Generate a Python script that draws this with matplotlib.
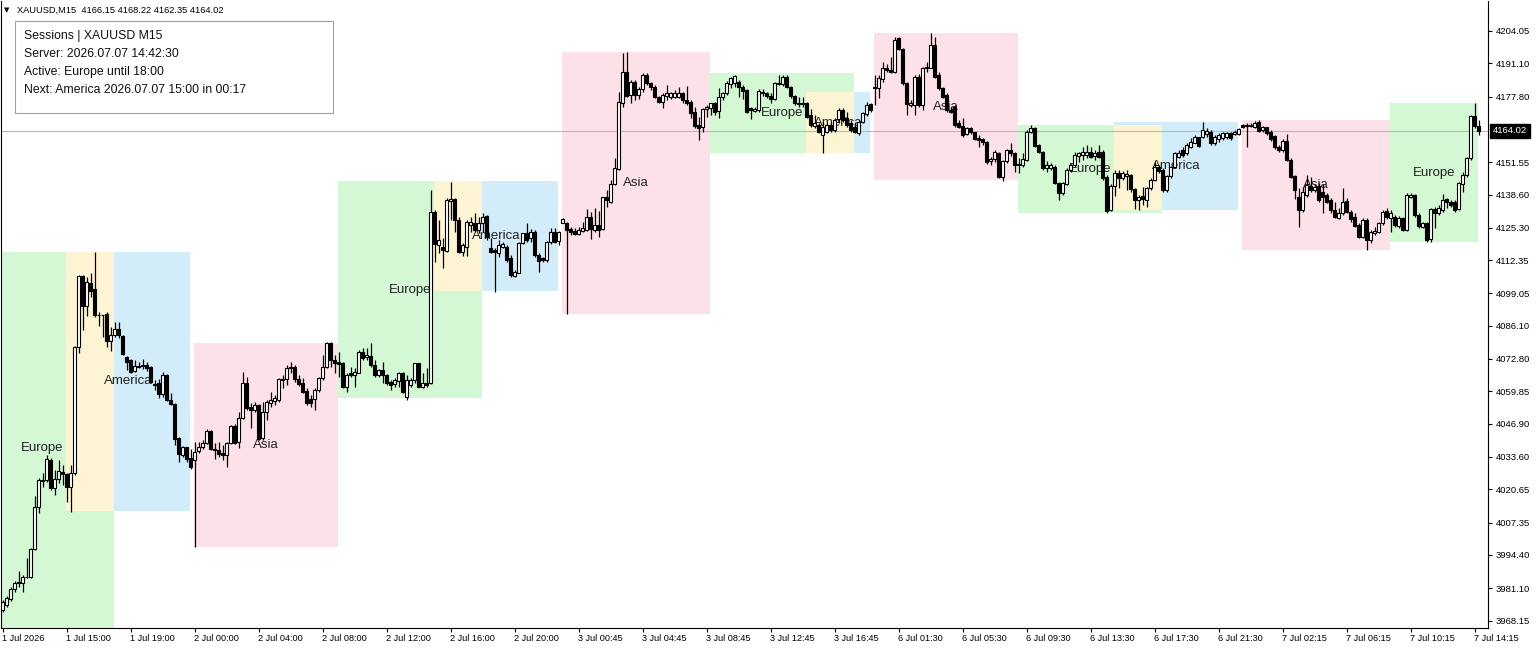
import matplotlib
matplotlib.use("Agg")
import matplotlib.pyplot as plt
from matplotlib.patches import Rectangle

plt.rcParams["font.family"] = ["Liberation Sans", "DejaVu Sans"]

# XAUUSD M15 candles, bar 0 = 1 Jul 2026 11:00
opens = [
    3972.4, 3974.4, 3976.7, 3980.7, 3983.3, 3983.1, 3985.7, 3985.5, 3996.7, 4013.7,
    4024.4, 4024.4, 4032.4, 4021.1, 4024.7, 4027.5, 4026.7, 4021.5, 4027.1, 4077.5,
    4106.0, 4094.0, 4103.3, 4100.7, 4090.4, 4090.4, 4090.8, 4080.1, 4082.4, 4084.7,
    4082.1, 4073.7, 4072.4, 4068.1, 4069.7, 4070.0, 4070.4, 4069.5, 4062.8, 4063.1,
    4058.8, 4066.4, 4056.4, 4054.8, 4041.1, 4034.4, 4037.5, 4033.1, 4032.4, 4036.1,
    4037.5, 4039.1, 4044.1, 4036.7, 4036.4, 4035.1, 4034.4, 4039.3, 4046.0, 4039.7,
    4049.1, 4063.1, 4053.5, 4052.4, 4054.4, 4041.1, 4051.7, 4055.3, 4056.1, 4056.4,
    4064.4, 4064.7, 4069.7, 4069.7, 4064.7, 4063.1, 4060.1, 4056.7, 4056.7, 4060.4,
    4065.1, 4069.5, 4079.1, 4072.4, 4071.7, 4071.1, 4061.7, 4067.1, 4066.4, 4067.3,
    4075.7, 4073.5, 4074.0, 4070.4, 4066.4, 4068.4, 4066.4, 4063.7, 4062.8, 4064.1,
    4067.3, 4057.7, 4062.4, 4064.4, 4071.1, 4061.7, 4063.1, 4063.1, 4131.7, 4118.4,
    4117.7, 4116.1, 4136.1, 4136.7, 4128.4, 4115.7, 4117.7, 4126.4, 4127.1, 4124.4,
    4127.3, 4130.0, 4117.1, 4116.4, 4115.1, 4117.5, 4117.7, 4113.1, 4106.0, 4107.3,
    4119.1, 4123.3, 4121.1, 4123.7, 4114.4, 4113.1, 4112.4, 4119.7, 4123.7, 4120.1,
    4127.3, 4127.3, 4124.7, 4124.1, 4122.8, 4124.1, 4124.4, 4129.5, 4124.4, 4126.4,
    4124.7, 4137.5, 4135.7, 4142.8, 4148.7, 4175.3, 4187.7, 4178.4, 4183.7, 4178.4,
    4180.7, 4186.4, 4183.3, 4181.7, 4177.7, 4175.7, 4178.0, 4177.5, 4177.7, 4177.7,
    4179.1, 4176.4, 4175.7, 4171.7, 4166.4, 4165.5, 4172.7, 4173.1, 4175.3, 4172.1,
    4177.5, 4179.1, 4182.8, 4183.3, 4183.7, 4181.7, 4180.4, 4173.1, 4172.1, 4172.4,
    4179.1, 4179.1, 4178.0, 4176.7, 4183.3, 4182.8, 4185.7, 4181.7, 4178.0, 4175.3,
    4174.8, 4175.1, 4170.4, 4166.0, 4166.4, 4162.4, 4163.7, 4166.4, 4164.4, 4168.7,
    4172.4, 4169.1, 4167.1, 4165.7, 4163.1, 4167.7, 4170.7, 4174.7, 4181.1, 4181.1,
    4184.8, 4189.1, 4188.4, 4187.7, 4201.1, 4196.8, 4183.1, 4174.4, 4174.4, 4185.7,
    4174.4, 4189.1, 4189.3, 4198.4, 4186.4, 4181.3, 4178.4, 4172.4, 4173.7, 4167.1,
    4166.1, 4162.7, 4165.1, 4163.5, 4161.3, 4160.8, 4159.7, 4152.0, 4152.8, 4155.1,
    4145.7, 4152.0, 4156.4, 4155.1, 4150.4, 4150.4, 4152.4, 4163.5, 4165.1, 4158.4,
    4155.7, 4149.1, 4149.3, 4149.7, 4143.1, 4139.1, 4142.7, 4148.4, 4150.4, 4154.1,
    4154.4, 4154.4, 4155.7, 4154.0, 4155.7, 4155.7, 4145.7, 4132.4, 4142.0, 4147.3,
    4145.1, 4146.0, 4146.4, 4140.7, 4136.4, 4138.0, 4136.4, 4141.1, 4144.4, 4149.7,
    4148.4, 4140.4, 4146.0, 4149.5, 4153.7, 4156.4, 4155.1, 4157.7, 4159.3, 4161.5,
    4161.7, 4162.8, 4163.7, 4159.1, 4160.7, 4161.1, 4161.5, 4163.1, 4162.8, 4162.8,
    4166.4, 4166.3, 4166.0, 4165.7, 4167.7, 4164.4, 4165.5, 4163.7, 4162.0, 4157.5,
    4156.4, 4160.1, 4152.4, 4146.0, 4137.5, 4132.4, 4138.4, 4142.0, 4140.4, 4142.0,
    4139.7, 4138.4, 4136.4, 4132.4, 4129.3, 4131.1, 4136.0, 4131.7, 4129.7, 4126.4,
    4121.7, 4128.4, 4120.4, 4123.1, 4123.5, 4127.1, 4132.0, 4129.1, 4129.7, 4126.1,
    4129.3, 4124.4, 4137.7, 4138.4, 4130.4, 4125.7, 4127.1, 4120.8, 4132.8, 4131.1,
    4132.4, 4136.8, 4135.7, 4135.7, 4132.8, 4142.7, 4146.4, 4153.1, 4170.1, 4166.15,
]
highs = [
    3976.4, 3978.0, 3981.7, 3984.1, 3988.0, 3986.4, 3993.1, 3997.1, 4018.0, 4025.1,
    4027.1, 4034.4, 4033.1, 4028.4, 4032.4, 4030.4, 4027.1, 4030.4, 4078.0, 4106.4,
    4106.4, 4105.7, 4107.1, 4115.7, 4091.7, 4090.4, 4091.7, 4085.7, 4087.7, 4087.7,
    4082.4, 4074.0, 4072.7, 4072.4, 4071.7, 4072.7, 4071.7, 4070.0, 4064.4, 4064.7,
    4067.7, 4066.8, 4059.1, 4055.1, 4041.5, 4038.0, 4037.7, 4036.7, 4039.7, 4039.7,
    4040.4, 4044.7, 4044.4, 4039.3, 4039.7, 4038.4, 4039.7, 4046.4, 4046.8, 4051.7,
    4067.7, 4065.7, 4055.1, 4055.7, 4054.8, 4055.7, 4056.4, 4059.7, 4058.4, 4065.1,
    4066.4, 4070.4, 4071.7, 4070.4, 4066.4, 4065.1, 4061.1, 4058.4, 4061.1, 4065.7,
    4074.4, 4079.7, 4079.7, 4074.4, 4075.7, 4071.7, 4067.1, 4069.7, 4069.1, 4076.4,
    4077.1, 4077.1, 4079.3, 4072.4, 4068.7, 4071.7, 4066.8, 4064.4, 4065.1, 4067.7,
    4067.7, 4066.4, 4065.1, 4071.3, 4071.3, 4067.1, 4069.1, 4140.4, 4132.4, 4128.4,
    4121.1, 4137.1, 4143.7, 4137.1, 4129.7, 4119.1, 4128.4, 4129.7, 4131.1, 4129.7,
    4131.1, 4130.4, 4121.1, 4117.1, 4120.4, 4119.7, 4118.4, 4114.4, 4108.4, 4119.7,
    4123.3, 4127.1, 4124.7, 4124.4, 4115.1, 4113.7, 4120.1, 4125.1, 4125.1, 4124.1,
    4129.1, 4127.7, 4125.7, 4125.1, 4125.7, 4127.7, 4132.7, 4131.7, 4133.1, 4132.1,
    4137.7, 4140.4, 4144.4, 4153.1, 4179.7, 4195.1, 4195.7, 4184.4, 4184.4, 4181.7,
    4187.1, 4187.1, 4183.7, 4182.4, 4178.0, 4179.1, 4182.4, 4179.7, 4180.4, 4181.7,
    4179.7, 4182.0, 4176.4, 4173.7, 4169.7, 4173.1, 4174.3, 4175.3, 4175.7, 4181.1,
    4179.7, 4184.1, 4185.7, 4186.4, 4184.4, 4182.4, 4180.7, 4173.7, 4173.7, 4180.7,
    4180.7, 4179.7, 4179.1, 4183.7, 4186.4, 4186.4, 4186.4, 4182.0, 4178.4, 4177.5,
    4177.5, 4175.7, 4172.7, 4170.4, 4167.1, 4167.7, 4167.1, 4167.7, 4169.1, 4173.1,
    4173.1, 4171.7, 4168.4, 4167.1, 4168.4, 4171.7, 4175.7, 4175.1, 4186.4, 4186.4,
    4191.5, 4190.7, 4193.7, 4201.7, 4201.7, 4197.1, 4183.7, 4176.4, 4186.4, 4186.7,
    4189.7, 4191.7, 4203.1, 4201.7, 4187.7, 4181.7, 4179.1, 4173.7, 4174.4, 4168.4,
    4169.1, 4165.7, 4165.7, 4163.7, 4162.4, 4161.1, 4160.0, 4153.7, 4156.4, 4155.7,
    4152.4, 4156.8, 4159.1, 4155.7, 4153.3, 4155.1, 4164.4, 4166.4, 4165.7, 4158.7,
    4156.0, 4152.0, 4151.1, 4150.4, 4143.7, 4143.7, 4149.1, 4150.7, 4155.7, 4155.7,
    4157.7, 4158.4, 4157.7, 4156.4, 4158.4, 4156.4, 4146.4, 4142.8, 4148.4, 4148.4,
    4148.1, 4148.4, 4146.8, 4141.1, 4138.4, 4141.7, 4141.7, 4145.1, 4151.7, 4150.4,
    4149.1, 4146.4, 4149.7, 4155.7, 4156.4, 4157.7, 4159.1, 4161.1, 4162.4, 4161.7,
    4167.7, 4165.1, 4164.4, 4162.4, 4163.1, 4163.7, 4163.7, 4163.7, 4164.4, 4165.1,
    4166.7, 4167.1, 4167.3, 4168.1, 4168.4, 4166.0, 4165.7, 4164.4, 4162.4, 4158.4,
    4160.7, 4162.8, 4153.1, 4146.4, 4141.1, 4141.5, 4146.4, 4145.7, 4142.8, 4143.1,
    4142.8, 4139.1, 4137.1, 4135.7, 4133.1, 4141.1, 4137.1, 4132.4, 4131.1, 4127.1,
    4129.1, 4129.1, 4124.4, 4125.7, 4127.7, 4132.4, 4133.1, 4132.4, 4130.4, 4130.1,
    4129.7, 4139.1, 4139.1, 4138.7, 4131.1, 4127.7, 4127.7, 4133.3, 4133.7, 4134.4,
    4138.7, 4137.3, 4136.4, 4136.4, 4143.7, 4147.5, 4153.7, 4170.4, 4175.1, 4168.22,
]
lows = [
    3971.7, 3973.7, 3976.1, 3979.7, 3981.7, 3979.7, 3985.1, 3985.1, 3996.4, 4011.1,
    4021.7, 4023.7, 4020.4, 4018.4, 4023.1, 4022.4, 4015.7, 4011.7, 4026.4, 4075.3,
    4084.4, 4090.0, 4097.7, 4089.7, 4086.0, 4081.7, 4077.7, 4076.1, 4081.7, 4081.1,
    4074.4, 4068.4, 4067.3, 4067.7, 4069.1, 4068.7, 4068.1, 4063.1, 4060.4, 4057.1,
    4057.7, 4056.1, 4054.4, 4038.4, 4031.7, 4033.7, 4031.7, 4028.7, 3997.7, 4035.1,
    4036.7, 4038.8, 4036.4, 4032.7, 4033.7, 4032.4, 4029.7, 4038.8, 4038.8, 4037.1,
    4048.7, 4052.4, 4045.1, 4051.7, 4040.4, 4040.4, 4048.4, 4053.7, 4054.4, 4055.7,
    4061.1, 4062.4, 4067.1, 4063.7, 4062.0, 4059.1, 4054.4, 4053.7, 4052.4, 4059.7,
    4064.4, 4069.1, 4069.7, 4067.1, 4065.7, 4061.1, 4059.7, 4065.7, 4061.7, 4067.1,
    4072.4, 4072.4, 4069.7, 4065.7, 4065.7, 4063.1, 4062.4, 4060.4, 4061.7, 4061.7,
    4059.1, 4056.4, 4061.7, 4063.1, 4061.5, 4061.1, 4061.7, 4062.8, 4111.7, 4115.1,
    4109.1, 4115.7, 4128.4, 4123.7, 4115.3, 4114.0, 4114.0, 4123.7, 4123.7, 4123.1,
    4123.7, 4120.4, 4115.1, 4099.7, 4113.7, 4117.1, 4111.7, 4105.5, 4105.5, 4107.1,
    4118.8, 4119.7, 4119.7, 4113.7, 4107.7, 4111.7, 4111.7, 4118.8, 4119.1, 4118.4,
    4127.1, 4090.8, 4122.4, 4122.4, 4122.4, 4123.7, 4124.1, 4120.7, 4123.7, 4121.7,
    4124.4, 4133.7, 4135.1, 4142.4, 4148.4, 4173.7, 4177.7, 4175.1, 4176.4, 4176.7,
    4179.7, 4182.4, 4180.4, 4177.1, 4175.1, 4173.1, 4176.4, 4176.7, 4177.1, 4177.1,
    4175.1, 4174.4, 4169.1, 4165.1, 4160.4, 4163.7, 4169.7, 4170.4, 4170.4, 4169.1,
    4176.4, 4178.4, 4181.1, 4181.7, 4177.7, 4176.7, 4171.3, 4168.7, 4171.7, 4171.7,
    4178.0, 4177.1, 4175.1, 4176.4, 4182.4, 4182.0, 4181.1, 4177.1, 4174.4, 4173.7,
    4173.7, 4169.1, 4165.7, 4165.1, 4163.1, 4155.1, 4163.1, 4163.7, 4163.7, 4167.1,
    4167.7, 4165.7, 4163.7, 4163.1, 4162.4, 4167.1, 4170.1, 4171.7, 4174.4, 4177.1,
    4183.5, 4187.7, 4187.1, 4187.1, 4196.4, 4182.4, 4170.4, 4173.7, 4170.4, 4173.7,
    4172.4, 4187.7, 4189.1, 4185.1, 4180.4, 4177.1, 4171.7, 4171.1, 4165.7, 4165.1,
    4161.7, 4162.4, 4162.7, 4160.4, 4157.7, 4158.4, 4150.7, 4150.4, 4151.7, 4145.3,
    4144.0, 4151.1, 4154.1, 4147.5, 4147.1, 4149.7, 4152.0, 4163.1, 4157.7, 4155.1,
    4148.4, 4147.5, 4148.4, 4142.7, 4136.4, 4138.4, 4142.4, 4147.7, 4149.7, 4151.7,
    4152.4, 4153.1, 4153.1, 4152.4, 4153.1, 4144.4, 4131.3, 4132.1, 4138.0, 4141.1,
    4144.4, 4140.4, 4139.7, 4132.7, 4132.4, 4134.4, 4133.7, 4140.4, 4144.0, 4147.1,
    4139.7, 4139.7, 4145.1, 4149.1, 4153.1, 4153.7, 4154.4, 4157.1, 4159.1, 4157.5,
    4161.1, 4161.7, 4158.4, 4158.4, 4159.7, 4160.4, 4160.7, 4160.4, 4162.4, 4162.4,
    4165.1, 4157.5, 4165.5, 4165.1, 4163.7, 4163.7, 4162.4, 4160.1, 4156.7, 4155.7,
    4155.7, 4152.1, 4145.1, 4136.7, 4125.5, 4131.7, 4137.7, 4139.7, 4139.7, 4135.7,
    4131.1, 4135.1, 4131.1, 4129.1, 4128.8, 4130.4, 4131.1, 4127.7, 4125.7, 4121.1,
    4121.1, 4116.4, 4119.1, 4122.4, 4123.1, 4126.4, 4128.8, 4123.7, 4125.7, 4125.1,
    4124.0, 4124.0, 4137.1, 4129.7, 4125.3, 4125.1, 4119.5, 4119.7, 4125.1, 4130.4,
    4131.7, 4133.1, 4133.7, 4131.7, 4132.4, 4139.5, 4145.7, 4152.4, 4165.1, 4162.35,
]
closes = [
    3975.7, 3977.1, 3980.7, 3983.3, 3983.7, 3985.7, 3985.5, 3996.7, 4013.7, 4024.4,
    4024.1, 4032.7, 4021.1, 4024.7, 4028.0, 4026.7, 4021.5, 4027.1, 4077.7, 4106.0,
    4094.0, 4103.7, 4100.1, 4090.4, 4090.4, 4090.3, 4080.1, 4082.4, 4084.7, 4082.4,
    4074.8, 4071.7, 4067.7, 4070.0, 4070.1, 4070.4, 4069.1, 4063.7, 4062.4, 4058.8,
    4066.4, 4056.4, 4054.8, 4040.7, 4034.8, 4037.5, 4032.7, 4029.7, 4035.7, 4037.5,
    4039.3, 4044.1, 4036.7, 4036.4, 4034.8, 4034.4, 4039.3, 4046.0, 4039.3, 4049.1,
    4063.1, 4053.1, 4052.4, 4054.4, 4040.7, 4051.7, 4055.7, 4056.4, 4057.1, 4064.7,
    4064.7, 4069.1, 4069.1, 4064.7, 4062.8, 4059.7, 4055.1, 4055.1, 4060.4, 4065.1,
    4069.5, 4079.1, 4072.4, 4071.1, 4070.8, 4061.7, 4066.4, 4066.4, 4067.7, 4075.7,
    4073.1, 4074.4, 4070.4, 4066.4, 4068.4, 4066.4, 4063.1, 4062.4, 4064.4, 4067.3,
    4059.7, 4064.4, 4064.4, 4071.1, 4061.7, 4063.1, 4062.4, 4131.7, 4118.8, 4120.4,
    4116.4, 4136.4, 4136.7, 4128.4, 4115.7, 4118.4, 4127.7, 4127.7, 4124.4, 4127.1,
    4129.7, 4121.7, 4115.7, 4115.7, 4118.4, 4118.8, 4112.4, 4106.4, 4107.7, 4119.1,
    4123.1, 4120.4, 4123.7, 4114.4, 4112.1, 4112.4, 4119.7, 4123.7, 4119.7, 4123.7,
    4128.7, 4124.4, 4123.7, 4122.8, 4124.4, 4125.1, 4129.7, 4124.7, 4126.4, 4124.4,
    4137.5, 4136.4, 4142.8, 4149.1, 4175.7, 4187.7, 4178.0, 4183.7, 4178.4, 4180.7,
    4186.4, 4183.1, 4181.5, 4177.5, 4175.7, 4178.4, 4179.1, 4179.1, 4179.1, 4179.1,
    4176.4, 4175.1, 4171.1, 4166.0, 4165.1, 4172.7, 4173.7, 4175.1, 4171.7, 4177.5,
    4179.1, 4183.1, 4185.1, 4186.0, 4181.7, 4180.1, 4171.7, 4172.4, 4172.7, 4180.1,
    4179.7, 4178.0, 4176.7, 4183.3, 4182.8, 4185.7, 4181.7, 4178.0, 4175.3, 4174.8,
    4175.3, 4169.7, 4166.4, 4167.1, 4163.7, 4165.7, 4166.4, 4164.4, 4168.4, 4172.4,
    4168.4, 4166.4, 4164.4, 4163.7, 4167.7, 4171.1, 4174.4, 4172.4, 4181.7, 4185.1,
    4189.1, 4188.4, 4187.5, 4200.4, 4196.8, 4183.1, 4174.7, 4175.1, 4185.7, 4174.4,
    4189.1, 4189.7, 4198.4, 4185.7, 4181.1, 4177.7, 4172.4, 4171.7, 4166.4, 4165.7,
    4162.4, 4165.1, 4163.5, 4160.8, 4160.4, 4159.5, 4151.5, 4152.8, 4155.5, 4145.7,
    4152.0, 4156.4, 4155.1, 4150.4, 4150.7, 4152.8, 4163.7, 4165.1, 4158.1, 4155.7,
    4149.1, 4150.4, 4150.4, 4143.1, 4139.1, 4143.1, 4148.4, 4150.4, 4154.4, 4155.1,
    4155.7, 4155.7, 4153.7, 4155.3, 4153.7, 4145.1, 4132.1, 4142.0, 4147.3, 4145.1,
    4147.3, 4146.8, 4140.7, 4136.4, 4137.5, 4136.7, 4141.1, 4144.4, 4149.7, 4148.1,
    4140.4, 4146.0, 4149.5, 4155.1, 4155.1, 4154.4, 4158.4, 4159.7, 4161.5, 4158.0,
    4164.4, 4164.1, 4159.1, 4161.7, 4162.4, 4163.1, 4163.1, 4161.1, 4163.7, 4164.7,
    4165.5, 4166.0, 4166.4, 4167.3, 4164.1, 4165.7, 4163.1, 4160.7, 4157.5, 4156.4,
    4160.1, 4152.4, 4145.7, 4140.4, 4132.4, 4139.7, 4142.4, 4140.4, 4141.7, 4136.4,
    4137.5, 4135.7, 4132.4, 4129.7, 4131.1, 4135.7, 4131.5, 4128.8, 4126.1, 4121.7,
    4128.4, 4120.4, 4123.7, 4124.0, 4127.1, 4131.7, 4129.7, 4131.1, 4126.4, 4129.3,
    4124.4, 4138.4, 4138.4, 4130.4, 4126.1, 4127.1, 4120.4, 4132.8, 4131.1, 4133.1,
    4136.4, 4135.5, 4134.4, 4132.4, 4143.1, 4146.4, 4153.1, 4170.1, 4166.1, 4164.02,
]

# session boxes: name, first bar, last bar, low, high
sessions = [
    ("Europe", -8.0, 27.9, 3958.8, 4115.6),
    ("America", 15.9, 46.9, 4012.2, 4115.6),
    ("Asia", 47.9, 83.9, 3997.6, 4079.2),
    ("Europe", 83.9, 119.9, 4057.2, 4144.0),
    ("America", 107.8, 138.9, 4100.0, 4144.0),
    ("Asia", 139.9, 176.9, 4090.8, 4195.6),
    ("Europe", 176.9, 212.9, 4155.2, 4187.2),
    ("America", 200.9, 216.9, 4155.2, 4179.6),
    ("Asia", 217.9, 253.9, 4144.4, 4203.2),
    ("Europe", 253.9, 289.9, 4131.2, 4166.4),
    ("America", 277.9, 308.9, 4132.4, 4167.6),
    ("Asia", 309.9, 346.9, 4116.4, 4168.4),
    ("Europe", 346.9, 368.9, 4119.6, 4175.2),
]
session_colors = {"Europe": "#d4f7d4", "America": "#d3ecfa", "Asia": "#fde1e8"}
overlap_color = "#fdf4d4"

time_labels = ["1 Jul 2026", "1 Jul 15:00", "1 Jul 19:00", "2 Jul 00:00", "2 Jul 04:00",
               "2 Jul 08:00", "2 Jul 12:00", "2 Jul 16:00", "2 Jul 20:00", "3 Jul 00:45",
               "3 Jul 04:45", "3 Jul 08:45", "3 Jul 12:45", "3 Jul 16:45", "6 Jul 01:30",
               "6 Jul 05:30", "6 Jul 09:30", "6 Jul 13:30", "6 Jul 17:30", "6 Jul 21:30",
               "7 Jul 02:15", "7 Jul 06:15", "7 Jul 10:15", "7 Jul 14:15"]
price_ticks = [4204.05, 4191.10, 4177.80, 4151.55, 4138.60, 4125.30, 4112.35, 4099.05,
               4086.10, 4072.80, 4059.85, 4046.90, 4033.60, 4020.65, 4007.35, 3994.40,
               3981.10, 3968.15]
last_price = 4164.02
info_lines = ["Sessions | XAUUSD M15", "Server: 2026.07.07 14:42:30",
              "Active: Europe until 18:00", "Next: America 2026.07.07 15:00 in 00:17"]

W, H = 1538, 649
fig = plt.figure(figsize=(W / 100, H / 100), dpi=100)
ax = fig.add_axes([1 / W, (H - 628) / H, 1487 / W, 627 / H])
ax.set_xlim(-0.375, 371.375)
ax.set_ylim(3965.2, 4216.0)

# session boxes, Europe/America overlap in yellow
for name, x0, x1, lo, hi in sessions:
    ax.add_patch(Rectangle((x0, lo), x1 - x0, hi - lo, facecolor=session_colors[name],
                           edgecolor="none", zorder=1))
    ax.text((x0 + x1) / 2, (lo + hi) / 2, name, ha="center", va="center",
            fontsize=9.5, color="#222222", zorder=2)
for name, x0, x1, lo, hi in sessions:
    if name != "America":
        continue
    for ename, ex0, ex1, elo, ehi in sessions:
        if ename != "Europe":
            continue
        ox0, ox1 = max(x0, ex0), min(x1, ex1)
        oy0, oy1 = max(lo, elo), min(hi, ehi)
        if ox1 > ox0 and oy1 > oy0:
            ax.add_patch(Rectangle((ox0, oy0), ox1 - ox0, oy1 - oy0,
                                   facecolor=overlap_color, edgecolor="none", zorder=1.5))

ax.axhline(last_price, color="#b8b8b8", linewidth=0.8, zorder=2.5)

x = list(range(len(closes)))
ax.vlines(x, lows, highs, color="black", linewidth=0.9, zorder=3)
bottoms = [min(o, c) for o, c in zip(opens, closes)]
heights = [abs(c - o) for o, c in zip(opens, closes)]
faces = ["white" if c > o else "black" for o, c in zip(opens, closes)]
ax.bar(x, heights, bottom=bottoms, width=0.55, color=faces, edgecolor="black",
       linewidth=0.8, zorder=4)

ax.yaxis.tick_right()
ax.set_yticks(price_ticks)
ax.set_yticklabels([f"{p:.2f}" for p in price_ticks])
ax.set_xticks(range(0, 369, 16))
ax.set_xticklabels(time_labels, ha="left")
ax.tick_params(axis="y", direction="out", length=3, width=0.8, pad=2.5, labelsize=6.8)
ax.tick_params(axis="x", direction="out", length=3, width=0.8, pad=1.5, labelsize=6.6)
for s in ax.spines.values():
    s.set_linewidth(0.8)
    s.set_color("black")
ax.spines["top"].set_visible(False)

ax.annotate(f"{last_price:.2f}", xy=(1.0, last_price), xycoords=("axes fraction", "data"),
            xytext=(3.5, 0), textcoords="offset points", ha="left", va="center",
            fontsize=6.8, color="white", annotation_clip=False,
            bbox=dict(boxstyle="square,pad=0.3", fc="black", ec="black"))

# header and info panel
fig.text(4 / W, 1 - 10 / H, "\u25bc", fontsize=5, va="center", ha="left",
         family=["DejaVu Sans"])
fig.text(17 / W, 1 - 10 / H, "XAUUSD,M15  4166.15 4168.22 4162.35 4164.02",
         fontsize=6.7, va="center", ha="left")
fig.add_artist(Rectangle((15 / W, 1 - 113 / H), 318 / W, 92 / H, transform=fig.transFigure,
                         facecolor="white", edgecolor="#a0a0a0", linewidth=0.8, zorder=10))
for k, line in enumerate(info_lines):
    fig.text(24 / W, 1 - (36 + 18 * k) / H, line, fontsize=8.8, va="center", ha="left",
             color="#111111", zorder=11)

fig.savefig("out.png", dpi=100)
